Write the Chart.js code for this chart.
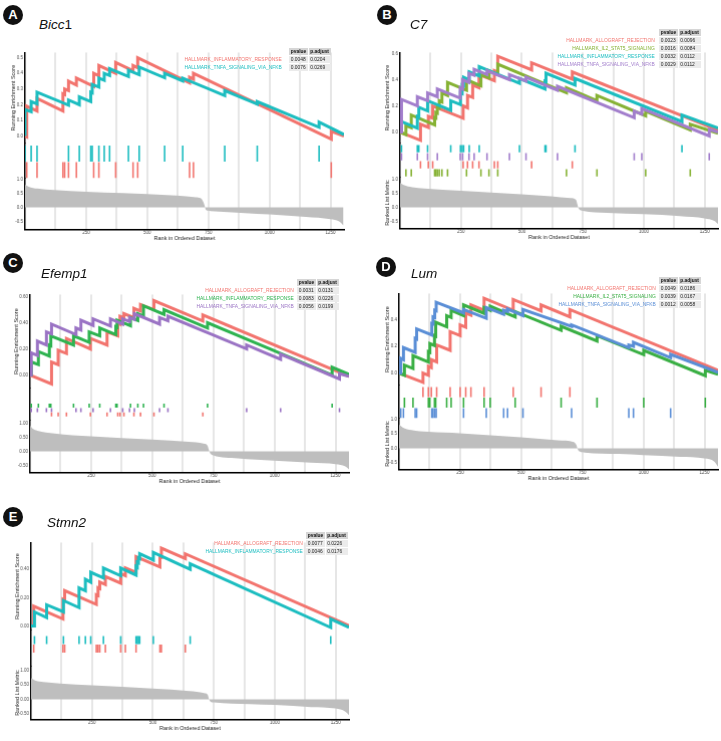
<!DOCTYPE html>
<html>
<head>
<meta charset="utf-8">
<script src="https://cdn.jsdelivr.net/npm/chart.js@4.4.1/dist/chart.umd.min.js"></script>
<style>
  body { margin: 0; background: #fff; font-family: 'Liberation Sans', Arial, sans-serif; }
  #page { position: relative; width: 721px; height: 741px; overflow: hidden; }
  .tag { position: absolute; width: 20px; height: 20px; border-radius: 50%; background: #111; color: #fff;
         font-weight: bold; font-size: 13px; line-height: 20px; text-align: center; }
  .gene { position: absolute; font-size: 13.5px; font-style: italic; color: #111; line-height: 14px; white-space: nowrap; }
  .gene span { font-style: normal; }
  canvas { position: absolute; }
  table.leg { position: absolute; border-collapse: separate; border-spacing: 1.5px; font-size: 4.9px; line-height: 7px; }
  table.leg td { padding: 0 1.5px; height: 7px; white-space: nowrap; }
  td.h { background: #d6d6d6; font-weight: bold; color: #111; }
  td.v { background: #ebebeb; color: #222; }
  td.n { text-align: right; }
</style>
</head>
<body>
<div id="page"></div>
<script>
const RANK_MAX = 1305;
const gridRanks = [125, 250, 375, 500, 625, 750, 875, 1000, 1125, 1250];
const rankTicks = [250, 500, 750, 1000, 1250];

// hits: [rank, score before the hit, score after the hit]

// A - Bicc1
const bicc1Sets = ['HALLMARK_INFLAMMATORY_RESPONSE', 'HALLMARK_TNFA_SIGNALING_VIA_NFKB'];
const bicc1Pvalue = ['0.0048', '0.0076'];
const bicc1Padjust = ['0.0204', '0.0269'];
const bicc1Inflam = [[7, -0.005, 0.19], [49, 0.16, 0.24], [155, 0.16, 0.27], [162, 0.265, 0.30], [178, 0.29, 0.35],
  [210, 0.325, 0.37], [281, 0.317, 0.40], [302, 0.385, 0.45], [371, 0.40, 0.47], [442, 0.417, 0.45], [461, 0.436, 0.50],
  [673, 0.34, 0.375], [689, 0.363, 0.40], [1253, -0.02, 0.03]];
const bicc1Tnfa = [[0, 0, 0.17], [25, 0.155, 0.22], [49, 0.205, 0.28], [178, 0.197, 0.23], [222, 0.20, 0.25],
  [269, 0.22, 0.28], [275, 0.276, 0.33], [302, 0.313, 0.37], [324, 0.356, 0.40], [346, 0.386, 0.43], [423, 0.38, 0.42],
  [467, 0.391, 0.44], [571, 0.372, 0.40], [645, 0.352, 0.37], [817, 0.258, 0.29], [950, 0.204, 0.22], [1203, 0.056, 0.09]];
const bicc1End = [0.0, 0.01];
const bicc1Metric = [[0, 0.82], [15, 0.74], [50, 0.67], [120, 0.62], [250, 0.56], [400, 0.51], [500, 0.48], [620, 0.42],
  [700, 0.36], [718, 0.33], [728, 0.22], [735, 0.06], [740, -0.09], [760, -0.13], [900, -0.2], [1000, -0.25],
  [1150, -0.34], [1250, -0.42], [1285, -0.5], [1303, -0.64]];

// B - C7
const c7Sets = ['HALLMARK_ALLOGRAFT_REJECTION', 'HALLMARK_IL2_STAT5_SIGNALING', 'HALLMARK_INFLAMMATORY_RESPONSE', 'HALLMARK_TNFA_SIGNALING_VIA_NFKB'];
const c7Pvalue = ['0.0023', '0.0016', '0.0032', '0.0029'];
const c7Padjust = ['0.0096', '0.0084', '0.0112', '0.0112'];
const c7Allo = [[84, -0.063, 0.06], [116, 0.036, 0.12], [134, 0.107, 0.20], [259, 0.106, 0.20], [277, 0.186, 0.28],
  [298, 0.265, 0.36], [324, 0.34, 0.44], [387, 0.393, 0.47], [401, 0.46, 0.58], [540, 0.476, 0.53], [707, 0.405, 0.46]];
const c7Il2 = [[24, -0.02, 0.05], [46, 0.033, 0.13], [142, 0.055, 0.11], [147, 0.107, 0.15], [153, 0.145, 0.19],
  [161, 0.184, 0.24], [172, 0.23, 0.30], [195, 0.28, 0.38], [273, 0.32, 0.40], [332, 0.354, 0.44], [365, 0.414, 0.47],
  [401, 0.44, 0.52], [683, 0.30, 0.34], [808, 0.24, 0.28], [1008, 0.124, 0.16], [1191, 0.017, 0.06]];
const c7Inflam = [[6, 0, 0.08], [71, 0.03, 0.12], [77, 0.115, 0.19], [113, 0.162, 0.24], [208, 0.167, 0.24],
  [248, 0.21, 0.30], [255, 0.295, 0.36], [261, 0.355, 0.42], [284, 0.40, 0.46], [325, 0.43, 0.50], [490, 0.373, 0.41],
  [595, 0.33, 0.39], [599, 0.387, 0.45], [718, 0.36, 0.41], [1157, 0.08, 0.13]];
const c7Tnfa = [[6, 0, 0.25], [71, 0.20, 0.27], [113, 0.24, 0.30], [153, 0.27, 0.33], [247, 0.26, 0.34], [257, 0.33, 0.40],
  [283, 0.38, 0.45], [304, 0.435, 0.48], [357, 0.44, 0.47], [449, 0.40, 0.44], [517, 0.39, 0.42], [646, 0.32, 0.35],
  [961, 0.11, 0.16], [992, 0.137, 0.18], [1269, -0.03, 0.02]];
const c7End = [0.015, -0.01, 0.03, 0.0];
const c7Metric = [[0, 0.88], [15, 0.8], [50, 0.72], [100, 0.67], [250, 0.59], [500, 0.47], [620, 0.40], [700, 0.33],
  [722, 0.27], [728, 0.1], [733, -0.04], [750, -0.12], [850, -0.19], [1000, -0.24], [1150, -0.31], [1250, -0.39],
  [1290, -0.48], [1306, -0.6]];

// C - Efemp1
const efemp1Sets = ['HALLMARK_ALLOGRAFT_REJECTION', 'HALLMARK_INFLAMMATORY_RESPONSE', 'HALLMARK_TNFA_SIGNALING_VIA_NFKB'];
const efemp1Pvalue = ['0.0031', '0.0083', '0.0056'];
const efemp1Padjust = ['0.0131', '0.0226', '0.0199'];
const efemp1Allo = [[88, -0.068, 0.10], [115, 0.08, 0.19], [149, 0.165, 0.28], [247, 0.20, 0.28], [315, 0.23, 0.33],
  [359, 0.30, 0.40], [368, 0.39, 0.45], [384, 0.44, 0.47], [425, 0.44, 0.51], [452, 0.49, 0.54], [507, 0.50, 0.57],
  [707, 0.414, 0.46]];
const efemp1Inflam = [[5, 0, 0.10], [34, 0.08, 0.18], [79, 0.145, 0.23], [85, 0.225, 0.30], [178, 0.23, 0.30],
  [242, 0.25, 0.33], [285, 0.30, 0.36], [351, 0.31, 0.37], [356, 0.366, 0.42], [411, 0.377, 0.44], [441, 0.417, 0.47],
  [464, 0.452, 0.53], [548, 0.465, 0.50], [726, 0.36, 0.40], [1236, 0.0, 0.06]];
const efemp1Tnfa = [[5, 0, 0.17], [30, 0.15, 0.26], [67, 0.23, 0.33], [88, 0.315, 0.39], [188, 0.31, 0.36],
  [208, 0.345, 0.42], [258, 0.38, 0.43], [329, 0.375, 0.43], [379, 0.39, 0.43], [407, 0.41, 0.44], [427, 0.425, 0.47],
  [530, 0.39, 0.44], [564, 0.415, 0.45], [886, 0.20, 0.23], [1025, 0.12, 0.16], [1266, -0.03, 0.01]];
const efemp1End = [-0.01, 0.005, -0.01];
const efemp1Metric = [[0, 0.93], [10, 0.82], [30, 0.74], [100, 0.64], [250, 0.54], [500, 0.42], [650, 0.34], [710, 0.28],
  [725, 0.22], [732, 0.05], [738, -0.08], [750, -0.14], [850, -0.25], [1000, -0.33], [1150, -0.4], [1250, -0.45],
  [1290, -0.53], [1308, -0.66]];

// D - Lum
const lumSets = ['HALLMARK_ALLOGRAFT_REJECTION', 'HALLMARK_IL2_STAT5_SIGNALING', 'HALLMARK_TNFA_SIGNALING_VIA_NFKB'];
const lumPvalue = ['0.0049', '0.0039', '0.0012'];
const lumPadjust = ['0.0186', '0.0167', '0.0058'];
const lumAllo = [[98, -0.07, 0.0], [120, -0.016, 0.05], [132, 0.04, 0.10], [154, 0.084, 0.21], [209, 0.17, 0.31],
  [250, 0.28, 0.36], [273, 0.343, 0.45], [294, 0.434, 0.51], [348, 0.47, 0.56], [467, 0.47, 0.55], [581, 0.465, 0.51],
  [699, 0.42, 0.475]];
const lumIl2 = [[22, -0.016, 0.06], [57, 0.034, 0.13], [120, 0.083, 0.16], [126, 0.155, 0.22], [145, 0.206, 0.28],
  [150, 0.276, 0.38], [195, 0.346, 0.43], [213, 0.416, 0.47], [264, 0.43, 0.51], [348, 0.447, 0.49], [373, 0.47, 0.50],
  [475, 0.42, 0.46], [663, 0.32, 0.35], [810, 0.24, 0.28], [1001, 0.137, 0.17], [1253, -0.02, 0.02]];
const lumTnfa = [[7, 0, 0.11], [18, 0.10, 0.19], [66, 0.155, 0.26], [72, 0.255, 0.33], [134, 0.285, 0.37],
  [139, 0.367, 0.42], [146, 0.415, 0.47], [152, 0.466, 0.53], [264, 0.45, 0.475], [357, 0.41, 0.49], [428, 0.44, 0.47],
  [444, 0.46, 0.48], [507, 0.43, 0.475], [706, 0.35, 0.36], [940, 0.19, 0.21], [959, 0.20, 0.23], [1111, 0.115, 0.14]];
const lumEnd = [0.02, -0.01, 0.005];
const lumMetric = [[0, 0.82], [15, 0.72], [50, 0.63], [120, 0.57], [250, 0.52], [500, 0.38], [650, 0.28], [715, 0.22],
  [725, 0.12], [732, -0.05], [740, -0.11], [760, -0.14], [900, -0.19], [1000, -0.23], [1150, -0.29], [1250, -0.34],
  [1290, -0.45], [1305, -0.63]];

// E - Stmn2
const stmn2Sets = ['HALLMARK_ALLOGRAFT_REJECTION', 'HALLMARK_INFLAMMATORY_RESPONSE'];
const stmn2Pvalue = ['0.0077', '0.0046'];
const stmn2Padjust = ['0.0226', '0.0176'];
const stmn2Allo = [[11, 0, 0.14], [131, 0.05, 0.19], [138, 0.185, 0.25], [268, 0.153, 0.22], [275, 0.215, 0.27],
  [282, 0.265, 0.31], [305, 0.293, 0.35], [368, 0.303, 0.37], [387, 0.356, 0.41], [431, 0.38, 0.49], [529, 0.417, 0.49],
  [535, 0.486, 0.55], [633, 0.476, 0.51]];
const stmn2Inflam = [[14, 0, 0.10], [64, 0.06, 0.15], [133, 0.10, 0.18], [197, 0.13, 0.27], [223, 0.25, 0.33],
  [245, 0.31, 0.38], [297, 0.34, 0.41], [368, 0.355, 0.41], [431, 0.36, 0.42], [436, 0.415, 0.45], [441, 0.446, 0.48],
  [446, 0.476, 0.51], [502, 0.466, 0.52], [653, 0.40, 0.44], [1230, -0.01, 0.05]];
const stmn2End = [0.004, -0.01];
const stmn2Metric = [[0, 0.74], [20, 0.64], [50, 0.6], [120, 0.55], [250, 0.49], [500, 0.375], [650, 0.29], [710, 0.22],
  [725, 0.16], [730, 0.02], [736, -0.07], [750, -0.1], [900, -0.16], [1000, -0.19], [1150, -0.26], [1250, -0.31],
  [1290, -0.42], [1308, -0.57]];

const RED = '#F2746E', TEAL = '#1CBDC0';

const panels = [
  { tag: 'A', gene: 'Bicc<span>1</span>', tagX: 13, tagY: 15, geneX: 39, geneY: 25,
    sets: bicc1Sets, pvalue: bicc1Pvalue, padjust: bicc1Padjust, hits: [bicc1Inflam, bicc1Tnfa], end: bicc1End,
    metric: bicc1Metric, colors: [RED, TEAL], rugRow: [1, 0],
    legRight: 330, legTop: 52, legGap: 8,
    axisX: 25, right: 343, top: 53, esBottom: 143, rugBottom: 178, bottom: 229, titleX: 13,
    esZero: 136, esPx: 156, esStep: 0.1, esDec: 1, mZero: 207, mPx: 28, mDec: 1, mTitle: false,
    rugC: 10.5, rugH: 16.5, rugHalf: 8 },
  { tag: 'B', gene: 'C7', tagX: 387, tagY: 15, geneX: 410, geneY: 25,
    sets: c7Sets, pvalue: c7Pvalue, padjust: c7Padjust, hits: [c7Allo, c7Il2, c7Inflam, c7Tnfa], end: c7End,
    metric: c7Metric, colors: [RED, '#86B234', TEAL, '#A27ECC'], rugRow: [2, 3, 0, 1],
    legRight: 700, legTop: 33, legGap: 5,
    axisX: 400, right: 717, top: 53, esBottom: 143, rugBottom: 177, bottom: 228, titleX: 387,
    esZero: 132, esPx: 130, esStep: 0.2, esDec: 1, mZero: 207, mPx: 28, mDec: 1, mTitle: true,
    rugC: 5.5, rugH: 8, rugHalf: 3.6 },
  { tag: 'C', gene: 'Efemp1', tagX: 13, tagY: 263, geneX: 41, geneY: 274,
    sets: efemp1Sets, pvalue: efemp1Pvalue, padjust: efemp1Padjust, hits: [efemp1Allo, efemp1Inflam, efemp1Tnfa], end: efemp1End,
    metric: efemp1Metric, colors: [RED, '#2EB350', '#9A73C4'], rugRow: [2, 0, 1],
    legRight: 338, legTop: 283, legGap: 4,
    axisX: 30, right: 348, top: 295, esBottom: 388, rugBottom: 420, bottom: 472, titleX: 16,
    esZero: 375, esPx: 130, esStep: 0.2, esDec: 2, mZero: 451, mPx: 28, mDec: 2, mTitle: false,
    rugC: 17.5, rugH: 4.3, rugHalf: 2 },
  { tag: 'D', gene: 'Lum', tagX: 386, tagY: 267, geneX: 411, geneY: 274,
    sets: lumSets, pvalue: lumPvalue, padjust: lumPadjust, hits: [lumAllo, lumIl2, lumTnfa], end: lumEnd,
    metric: lumMetric, colors: [RED, '#3AAF44', '#5A8ED6'], rugRow: [0, 1, 2],
    legRight: 700, legTop: 281, legGap: 4,
    axisX: 399, right: 717, top: 294, esBottom: 385, rugBottom: 418, bottom: 469, titleX: 387,
    esZero: 373, esPx: 133, esStep: 0.2, esDec: 1, mZero: 448, mPx: 29, mDec: 1, mTitle: true,
    rugC: 7, rugH: 10.5, rugHalf: 5 },
  { tag: 'E', gene: 'Stmn2', tagX: 13, tagY: 517, geneX: 47, geneY: 523,
    sets: stmn2Sets, pvalue: stmn2Pvalue, padjust: stmn2Padjust, hits: [stmn2Allo, stmn2Inflam], end: stmn2End,
    metric: stmn2Metric, colors: [RED, TEAL], rugRow: [1, 0],
    legRight: 347, legTop: 536, legGap: 4,
    axisX: 31, right: 348, top: 543, esBottom: 630, rugBottom: 666, bottom: 719, titleX: 17,
    esZero: 626, esPx: 141, esStep: 0.2, esDec: 2, mZero: 699, mPx: 29, mDec: 2, mTitle: true,
    rugC: 10, rugH: 8.5, rugHalf: 4 }
];

Chart.defaults.font.family = "'Liberation Sans', Arial, sans-serif";
Chart.defaults.color = '#4d4d4d';

const page = document.getElementById('page');
const X_AXIS_H = 12;

function stepLine(hits, endValue) {
  const pts = [{ x: 0, y: 0 }];
  hits.forEach(([r, lo, hi]) => pts.push({ x: r, y: lo }, { x: r, y: hi }));
  pts.push({ x: RANK_MAX, y: endValue });
  return pts;
}

function addLabels(p) {
  const tag = document.createElement('div');
  tag.className = 'tag';
  tag.textContent = p.tag;
  tag.style.left = (p.tagX - 10) + 'px';
  tag.style.top = (p.tagY - 10) + 'px';
  page.appendChild(tag);

  const gene = document.createElement('div');
  gene.className = 'gene';
  gene.innerHTML = p.gene;
  gene.style.left = p.geneX + 'px';
  gene.style.top = (p.geneY - 7) + 'px';
  page.appendChild(gene);

  const t = document.createElement('table');
  t.className = 'leg';
  let html = '<tr><td></td><td class="h">pvalue</td><td class="h">p.adjust</td></tr>';
  p.sets.forEach((name, i) => {
    html += `<tr><td class="n" style="color:${p.colors[i]};padding-right:${p.legGap - 1.5}px">${name}</td>` +
      `<td class="v">${p.pvalue[i]}</td><td class="v">${p.padjust[i]}</td></tr>`;
  });
  t.innerHTML = html;
  t.style.right = (721 - p.legRight - 1.5) + 'px';
  t.style.top = (p.legTop - 5) + 'px';
  page.appendChild(t);
}

function buildPanel(p) {
  const yW = p.axisX - p.titleX + 3;
  const geo = { left: p.axisX - yW, top: p.top - 4 };
  geo.w = p.right - geo.left + 2;
  geo.h = p.bottom - geo.top + X_AXIS_H;
  const cv = document.createElement('canvas');
  cv.width = geo.w; cv.height = geo.h;
  cv.style.left = geo.left + 'px';
  cv.style.top = geo.top + 'px';
  page.appendChild(cv);

  const fixW = s => { s.width = yW; };
  const tickFont = { size: 4.5, lineHeight: 1 };
  const titleFont = { size: 5.5, lineHeight: 1.1 };
  const axisLine = { color: '#000', width: 1.5 };
  const datasets = [];

  p.hits.forEach((hits, i) => {
    datasets.push({
      type: 'line', yAxisID: 'yE', order: -i,
      data: stepLine(hits, p.end[i]),
      borderColor: p.colors[i], borderWidth: 3, pointRadius: 0, tension: 0, fill: false
    });
    datasets.push({
      type: 'scatter', yAxisID: 'yR', order: 5,
      data: hits.map(hh => ({ x: hh[0], y: p.rugRow[i] })),
      pointStyle: 'line', pointRotation: 90, pointRadius: p.rugHalf,
      pointBorderColor: p.colors[i], pointBorderWidth: 1.6, pointBackgroundColor: p.colors[i]
    });
  });

  datasets.push({
    type: 'line', yAxisID: 'yM', order: 10,
    data: p.metric.map(([x, y]) => ({ x, y })),
    borderWidth: 0, borderColor: 'rgba(0,0,0,0)', backgroundColor: '#bebebe',
    pointRadius: 0, fill: 'origin', cubicInterpolationMode: 'monotone'
  });

  const target = { E: p.esBottom - p.top, R: p.rugBottom - p.esBottom, M: p.bottom - p.rugBottom };
  const rugMin = -p.rugC / p.rugH;

  const chart = new Chart(cv, {
    type: 'line',
    data: { datasets },
    options: {
      responsive: false, maintainAspectRatio: false, animation: false, events: [],
      layout: { padding: { top: 4, right: 2, left: 0, bottom: 0 } },
      plugins: { legend: { display: false }, tooltip: { enabled: false } },
      scales: {
        x: {
          type: 'linear', min: 0, max: RANK_MAX,
          afterBuildTicks: s => { s.ticks = gridRanks.map(v => ({ value: v })); },
          afterFit: s => { s.height = X_AXIS_H; },
          ticks: { font: tickFont, padding: 1, maxRotation: 0, autoSkip: false,
                   callback: v => rankTicks.includes(v) ? String(v) : '' },
          grid: { color: '#e6e6e6', lineWidth: 2, drawTicks: false },
          border: axisLine,
          title: { display: true, text: 'Rank in Ordered Dataset', font: titleFont, color: '#222', padding: { top: 0.5, bottom: 0 } }
        },
        yM: {
          type: 'linear', position: 'left', stack: 'gsea', stackWeight: target.M,
          min: -(p.bottom - p.mZero) / p.mPx, max: (p.mZero - p.rugBottom) / p.mPx,
          afterFit: fixW,
          ticks: { stepSize: 0.5, includeBounds: false, font: tickFont, padding: 2, callback: v => v.toFixed(p.mDec) },
          grid: { display: false, drawTicks: false },
          border: axisLine,
          title: { display: p.mTitle, text: 'Ranked List Metric', font: titleFont, color: '#222', padding: 0 }
        },
        yR: {
          type: 'linear', position: 'left', stack: 'gsea', stackWeight: target.R, reverse: true,
          min: rugMin, max: rugMin + target.R / p.rugH,
          afterFit: fixW,
          ticks: { display: false },
          grid: { display: false, drawTicks: false },
          border: axisLine
        },
        yE: {
          type: 'linear', position: 'left', stack: 'gsea', stackWeight: target.E,
          min: -(p.esBottom - p.esZero) / p.esPx, max: (p.esZero - p.top) / p.esPx,
          afterFit: fixW,
          ticks: { stepSize: p.esStep, includeBounds: false, font: tickFont, padding: 2, callback: v => v.toFixed(p.esDec) },
          grid: { display: false, drawTicks: false },
          border: axisLine,
          title: { display: true, text: 'Running Enrichment Score', font: titleFont, color: '#222', padding: 0 }
        }
      }
    }
  });

  // nudge the canvas until the plot area sits on the reference frame
  for (let k = 0; k < 3; k++) {
    const ca = chart.chartArea, sc = chart.scales;
    const dl = p.axisX - (geo.left + ca.left);
    const dr = p.right - (geo.left + ca.right);
    const dt = p.top - (geo.top + sc.yE.top);
    const db = p.bottom - (geo.top + sc.yM.bottom);
    const got = { E: sc.yE.bottom - sc.yE.top, R: sc.yR.bottom - sc.yR.top, M: sc.yM.bottom - sc.yM.top };
    const off = Math.abs(dl) + Math.abs(dr) + Math.abs(dt) + Math.abs(db) +
      Math.abs(got.E - target.E) + Math.abs(got.R - target.R) + Math.abs(got.M - target.M);
    if (off < 0.5) break;
    geo.left += dl; geo.top += dt;
    geo.w += dr - dl; geo.h += db - dt;
    ['E', 'R', 'M'].forEach(key => {
      const opt = chart.options.scales['y' + key];
      opt.stackWeight = opt.stackWeight * target[key] / Math.max(got[key], 1);
    });
    cv.style.left = geo.left + 'px';
    cv.style.top = geo.top + 'px';
    chart.resize(geo.w, geo.h);
    chart.update();
  }

  addLabels(p);
}

panels.forEach(buildPanel);
</script>
</body>
</html>
